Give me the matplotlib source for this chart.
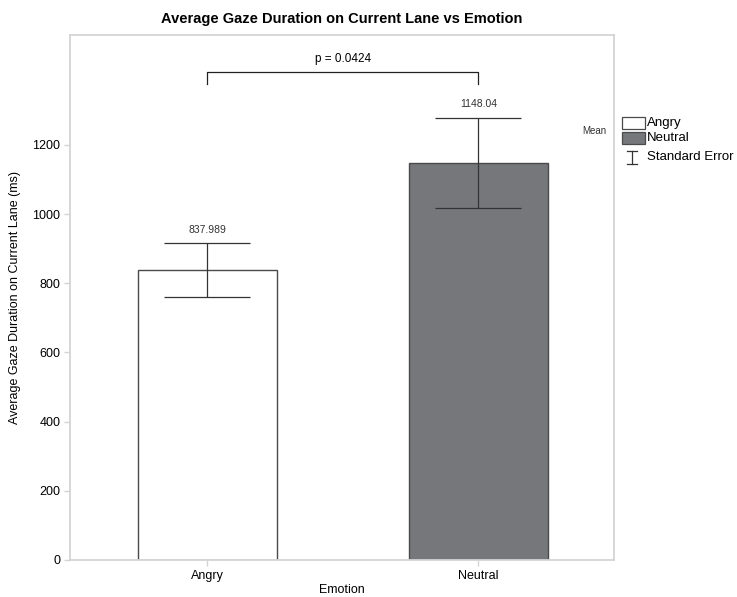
import numpy as np
import matplotlib.pyplot as plt
from matplotlib.patches import Rectangle
from matplotlib.lines import Line2D

plt.rcParams['font.family'] = ['Liberation Sans', 'DejaVu Sans']

# mean gaze duration per emotion and standard error (ms)
emotions = ['Angry', 'Neutral']
means = [837.989, 1148.04]
std_err = [77, 131]
mean_labels = ['837.989', '1148.04']
p_label = 'p = 0.0424'
y_ticks = [0, 200, 400, 600, 800, 1000, 1200]

bar_colors = ['white', '#76777b']
edge_col = '#4a4a4a'
frame_col = '#d4d4d4'

fig = plt.figure(figsize=(7.37, 5.97), dpi=100)
ax = fig.add_axes([0.095, 0.062, 0.738, 0.879])

x = np.arange(len(emotions))
ax.bar(x, means, width=0.513, color=bar_colors, edgecolor=edge_col, linewidth=1.0, zorder=2)
ax.errorbar(x, means, yerr=std_err, fmt='none', ecolor='#333333', elinewidth=0.9,
            capsize=31, capthick=0.9, zorder=3)

# value labels above the upper error caps
for xi, m, se, lab in zip(x, means, std_err, mean_labels):
    ax.text(xi, m + se + 38, lab, ha='center', va='center', fontsize=7.5, color='#333333')

# significance bracket
y_top = 1410
y_drop = 1376
ax.plot([x[0], x[0], x[1], x[1]], [y_drop, y_top, y_top, y_drop], color='#222222', lw=0.9)
ax.text((x[0] + x[1]) / 2, y_top + 38, p_label, ha='center', va='center', fontsize=8.5)

ax.set_xlim(-0.507, 1.5)
ax.set_ylim(0, 1517)
ax.set_xticks(x)
ax.set_xticklabels(emotions, fontsize=9)
ax.set_yticks(y_ticks)
ax.set_yticklabels([str(t) for t in y_ticks], fontsize=9)
ax.tick_params(axis='both', length=4, color=frame_col, width=1, pad=3)
for s in ax.spines.values():
    s.set_color(frame_col)
    s.set_linewidth(1.3)

ax.set_xlabel('Emotion', fontsize=9, labelpad=2)
ax.set_ylabel('Average Gaze Duration on Current Lane (ms)', fontsize=9, labelpad=8)
ax.set_title('Average Gaze Duration on Current Lane vs Emotion', fontsize=10.5,
             fontweight='bold', pad=9)

# legend drawn in figure pixels
W, H = 737, 597
def fx(px):
    return px / W
def fy(py):
    return 1 - py / H

fig.text(fx(594), fy(131), 'Mean', fontsize=7, ha='center', va='center', color='#333333')
for i, (name, col) in enumerate(zip(emotions, bar_colors)):
    top = 117 + i * 15
    fig.add_artist(Rectangle((fx(622), fy(top + 12)), fx(645) - fx(622), fy(top) - fy(top + 12),
                             facecolor=col, edgecolor=edge_col, lw=0.9, transform=fig.transFigure))
    fig.text(fx(647), fy(top + 6), name, fontsize=9.5, ha='left', va='center')
# error bar glyph
ex = fx(632)
fig.add_artist(Line2D([ex, ex], [fy(151), fy(164)], color='#333333', lw=0.9, transform=fig.transFigure))
fig.add_artist(Line2D([fx(627), fx(637)], [fy(151), fy(151)], color='#333333', lw=0.9, transform=fig.transFigure))
fig.add_artist(Line2D([fx(627), fx(637)], [fy(164), fy(164)], color='#333333', lw=0.9, transform=fig.transFigure))
fig.text(fx(647), fy(157), 'Standard Error', fontsize=9.5, ha='left', va='center')

fig.savefig('out.png', dpi=100)
